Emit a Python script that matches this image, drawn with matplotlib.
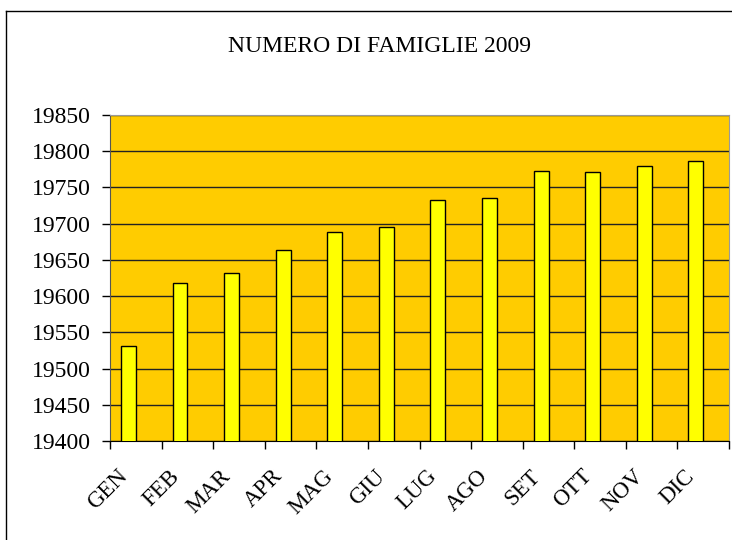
import numpy as np
import matplotlib
matplotlib.use('Agg')
import matplotlib.pyplot as plt
from matplotlib.lines import Line2D
from matplotlib.transforms import ScaledTranslation

months = ['GEN', 'FEB', 'MAR', 'APR', 'MAG', 'GIU', 'LUG', 'AGO', 'SET', 'OTT', 'NOV', 'DIC']
families = [19531, 19618, 19632, 19663, 19689, 19696, 19733, 19735, 19773, 19771, 19779, 19786]
yticks = [19400, 19450, 19500, 19550, 19600, 19650, 19700, 19750, 19800, 19850]
title = 'NUMERO DI FAMIGLIE 2009'

plt.rcParams['font.family'] = ['Liberation Serif', 'DejaVu Serif']

fig = plt.figure(figsize=(7.32, 5.40), dpi=100)
ax = fig.add_axes([110/732, 99/540, 619/732, 326/540])
ax.set_facecolor('#FFCC00')

x = np.arange(len(months))
# excel-style cluster: single series sits left of the category centre
ax.bar(x - 0.143, families, width=0.29, color='#FFFF00', edgecolor='black', linewidth=1, zorder=3)

ax.set_xlim(-0.5, len(months) - 0.5)
ax.set_ylim(19400, 19850)
ax.set_yticks(yticks)
ax.yaxis.grid(True, color='#222222', linewidth=1)
ax.set_axisbelow(True)

ax.set_xticks(x)
ax.set_xticklabels(months, rotation=45, ha='right', rotation_mode='anchor', fontsize=16.5)
ax.tick_params(axis='x', which='major', length=0, pad=12)
shift = ScaledTranslation(-19/100, -8/100, fig.dpi_scale_trans)
for lbl in ax.get_xticklabels():
    lbl.set_transform(lbl.get_transform() + shift)
ax.set_xticks(np.arange(-0.5, len(months)), minor=True)
ax.tick_params(axis='x', which='minor', length=6, width=1, direction='out', color='black')
ax.tick_params(axis='y', length=6, width=1, direction='out', labelsize=17, pad=8)

for s in ['top', 'right']:
    ax.spines[s].set_color('#999999')
ax.spines['left'].set_color('#555555')
ax.spines['bottom'].set_color('black')

fig.text(380/732, 1 - 46/540, title, ha='center', va='center', fontsize=17)

# chart border (only left and top fall inside the image)
fig.add_artist(Line2D([6/732, 6/732], [0, 1 - 11/540], transform=fig.transFigure, color='black', linewidth=1))
fig.add_artist(Line2D([6/732, 1], [1 - 11/540, 1 - 11/540], transform=fig.transFigure, color='black', linewidth=1))

fig.savefig('out.png', dpi=100)
